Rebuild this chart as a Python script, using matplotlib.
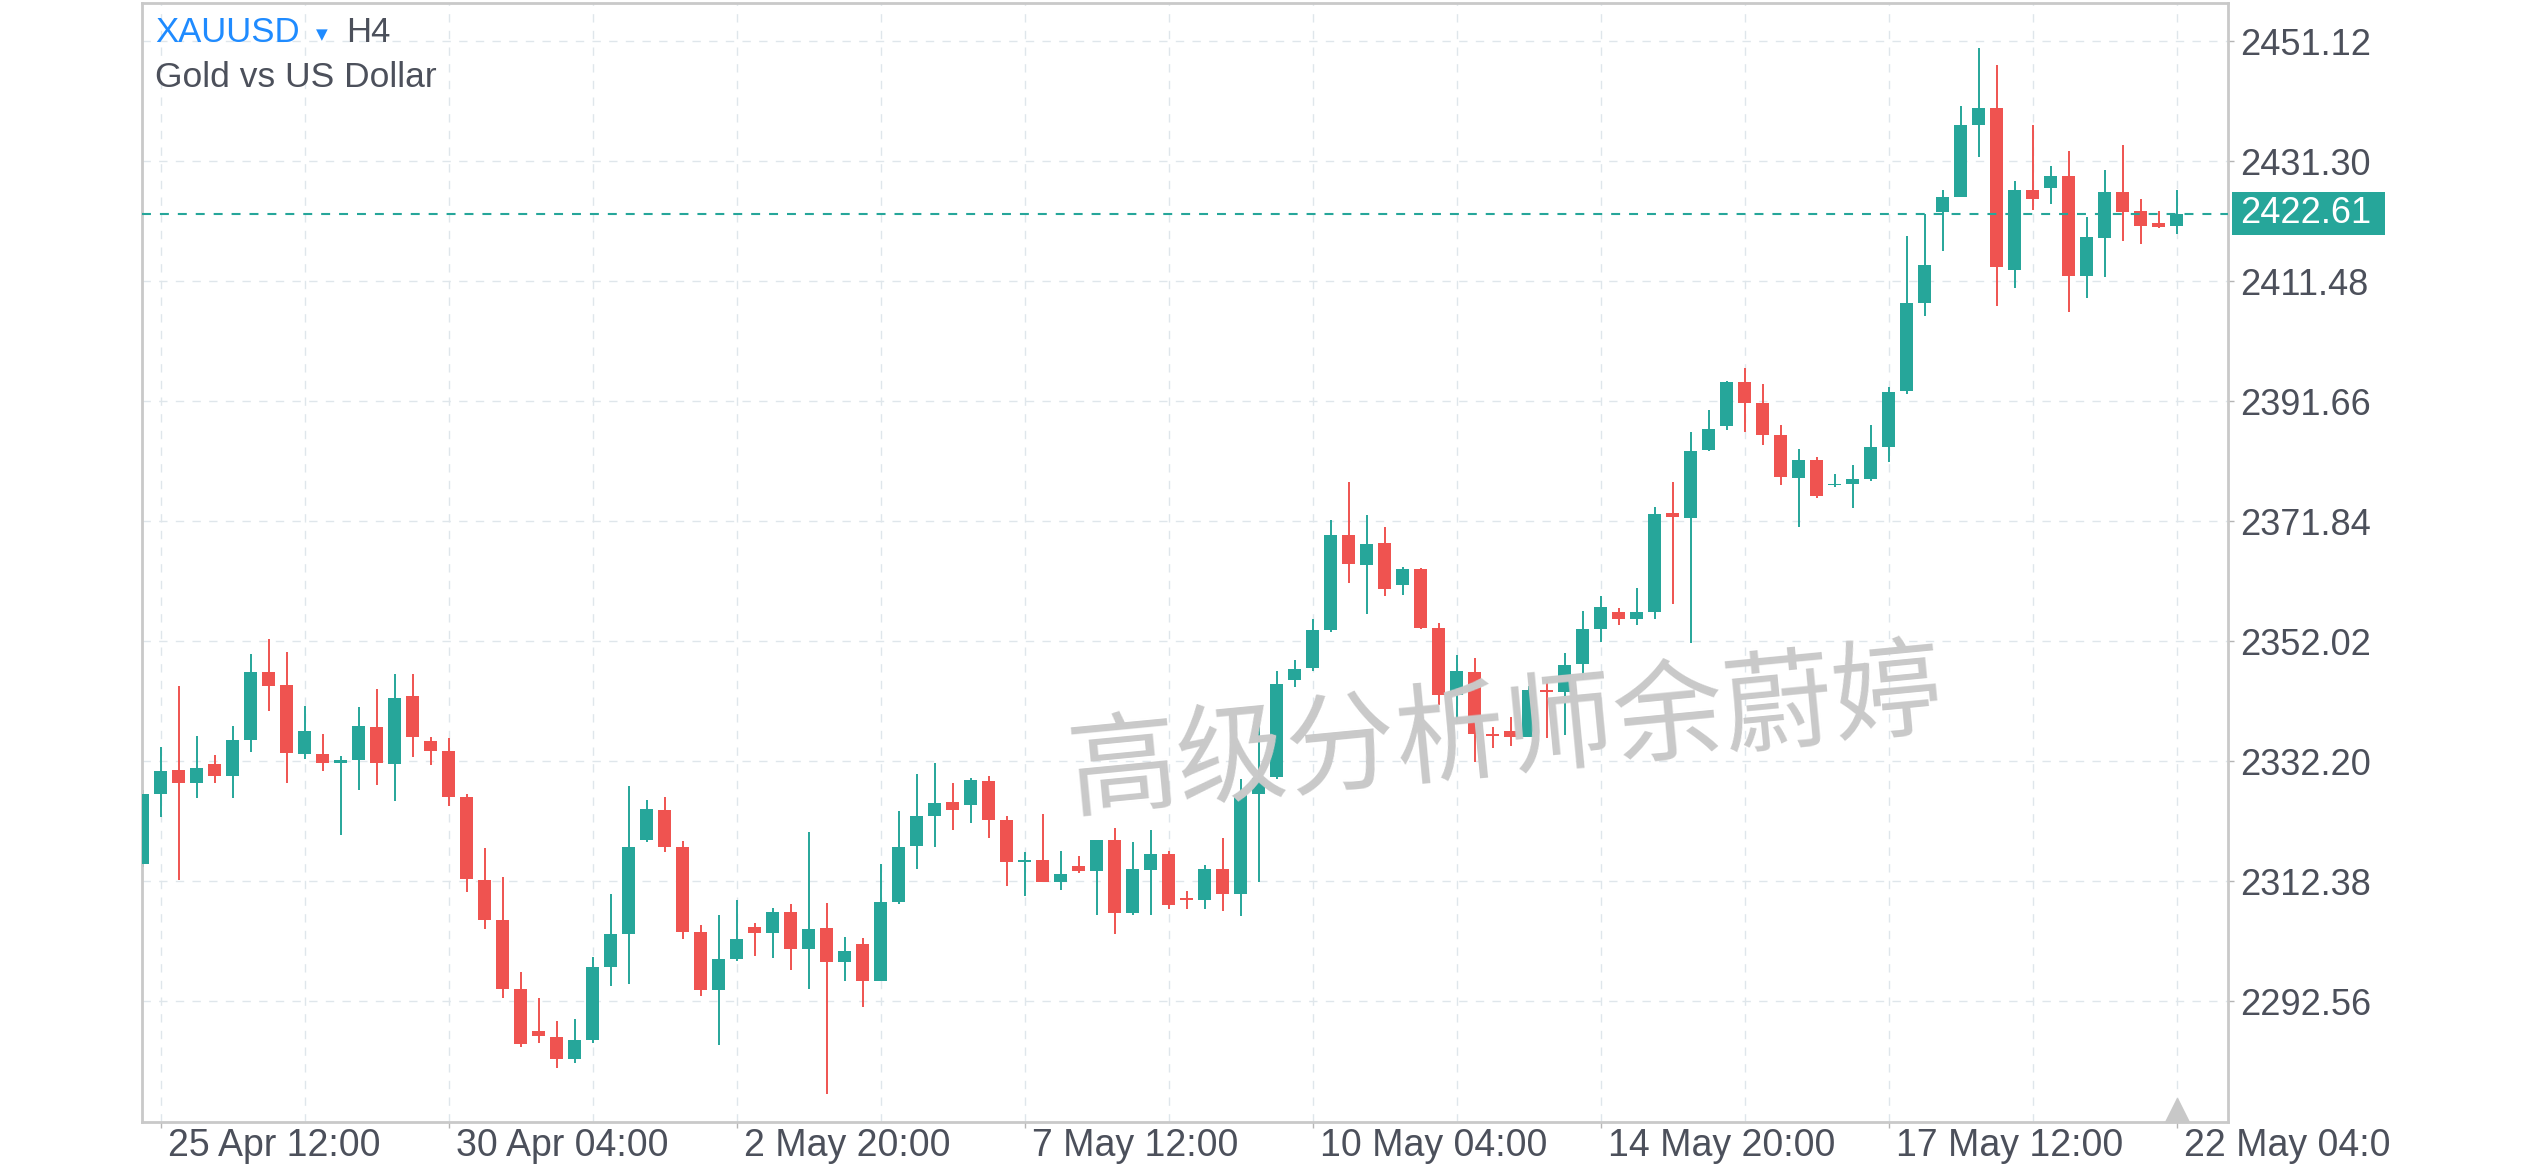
import numpy as np
import matplotlib
matplotlib.use("Agg")
import matplotlib.pyplot as plt
from matplotlib.patches import Rectangle
from matplotlib.transforms import blended_transform_factory, Bbox

plt.rcParams["font.family"] = ["Liberation Sans", "DejaVu Sans"]

# H4 candles, XAUUSD (oldest first)
opens = [2315.30, 2326.86, 2330.77, 2328.62, 2331.76, 2329.78, 2335.72, 2346.95, 2344.81, 2333.41,
         2333.41, 2331.92, 2332.42, 2337.87, 2331.76, 2342.99, 2335.56, 2333.90, 2326.31, 2312.60,
         2305.99, 2294.59, 2287.65, 2286.66, 2283.03, 2286.17, 2298.23, 2303.68, 2319.21, 2324.16,
         2318.05, 2304.01, 2294.43, 2299.55, 2304.84, 2303.84, 2307.31, 2301.20, 2304.67, 2299.05,
         2302.03, 2295.92, 2308.96, 2318.21, 2323.17, 2325.48, 2324.99, 2328.95, 2322.51, 2315.57,
         2315.90, 2312.27, 2314.91, 2314.09, 2319.21, 2307.15, 2314.25, 2316.89, 2309.46, 2309.29,
         2314.42, 2310.29, 2326.80, 2329.66, 2345.63, 2347.61, 2353.89, 2369.58, 2364.63, 2368.26,
         2361.32, 2363.97, 2354.22, 2343.15, 2346.95, 2336.71, 2337.21, 2336.22, 2343.98, 2343.65,
         2348.27, 2354.06, 2356.86, 2355.71, 2356.81, 2373.16, 2372.33, 2383.57, 2387.53, 2394.80,
         2391.33, 2386.04, 2378.94, 2381.91, 2377.78, 2377.95, 2378.78, 2384.06, 2393.31, 2407.90,
         2422.93, 2425.41, 2437.30, 2440.11, 2413.35, 2426.56, 2426.89, 2428.88, 2412.36, 2418.64,
         2426.23, 2423.09, 2421.11, 2420.62]
highs = [2327.50, 2334.57, 2344.65, 2336.38, 2333.24, 2338.03, 2349.93, 2352.41, 2350.26, 2341.34,
         2336.71, 2333.08, 2341.17, 2344.15, 2346.62, 2346.62, 2336.22, 2336.05, 2326.80, 2317.88,
         2313.09, 2297.40, 2293.11, 2289.31, 2289.64, 2299.88, 2310.29, 2328.13, 2325.81, 2326.31,
         2319.04, 2305.17, 2306.82, 2309.29, 2305.50, 2307.97, 2308.63, 2320.53, 2308.80, 2303.18,
         2303.02, 2315.24, 2324.00, 2330.11, 2331.92, 2328.62, 2329.45, 2329.78, 2323.17, 2317.22,
         2323.50, 2317.39, 2316.56, 2319.21, 2321.19, 2318.88, 2320.86, 2317.39, 2310.78, 2315.08,
         2319.54, 2329.28, 2338.74, 2347.12, 2348.93, 2355.71, 2372.06, 2378.34, 2372.89, 2370.90,
         2364.30, 2364.10, 2355.05, 2349.76, 2349.27, 2337.87, 2339.52, 2344.64, 2345.80, 2350.09,
         2357.03, 2359.51, 2357.52, 2360.83, 2374.15, 2378.28, 2386.54, 2390.17, 2394.96, 2397.11,
         2394.47, 2387.69, 2383.73, 2382.41, 2379.60, 2381.09, 2387.69, 2393.97, 2418.96, 2422.60,
         2426.56, 2440.44, 2450.02, 2447.21, 2428.05, 2437.30, 2430.53, 2433.01, 2422.10, 2429.87,
         2434.00, 2425.08, 2423.09, 2426.56]
lows = [2314.80, 2323.00, 2312.60, 2326.14, 2328.62, 2326.14, 2333.74, 2340.51, 2328.62, 2332.58,
        2330.60, 2320.03, 2327.46, 2328.29, 2325.65, 2332.91, 2331.59, 2324.82, 2310.61, 2304.50,
        2293.11, 2285.01, 2285.67, 2281.54, 2282.37, 2285.67, 2295.09, 2295.42, 2318.88, 2317.22,
        2302.85, 2293.44, 2285.34, 2299.22, 2300.04, 2299.71, 2297.73, 2294.59, 2277.25, 2295.92,
        2291.62, 2295.92, 2308.63, 2314.42, 2318.05, 2320.86, 2322.01, 2319.54, 2311.61, 2309.96,
        2312.27, 2310.95, 2313.76, 2306.82, 2303.68, 2306.82, 2306.82, 2307.81, 2307.81, 2307.81,
        2307.48, 2306.65, 2312.27, 2329.33, 2344.48, 2347.12, 2353.56, 2361.65, 2356.53, 2359.51,
        2359.67, 2354.10, 2341.50, 2338.60, 2332.09, 2334.40, 2334.73, 2336.22, 2336.05, 2336.55,
        2345.63, 2351.91, 2354.72, 2354.72, 2355.65, 2358.13, 2351.74, 2383.40, 2386.87, 2386.54,
        2384.39, 2377.78, 2370.85, 2375.64, 2377.45, 2373.99, 2378.45, 2381.59, 2392.90, 2405.75,
        2416.49, 2425.41, 2432.01, 2407.40, 2410.38, 2423.26, 2424.25, 2406.41, 2408.72, 2412.19,
        2418.14, 2417.64, 2420.29, 2419.30]
closes = [2326.80, 2330.60, 2328.62, 2331.10, 2329.78, 2335.72, 2346.95, 2344.64, 2333.57, 2337.21,
          2331.92, 2332.42, 2338.03, 2331.92, 2342.66, 2336.22, 2333.90, 2326.31, 2312.76, 2305.99,
          2294.59, 2285.51, 2286.83, 2283.03, 2286.17, 2298.23, 2303.68, 2318.05, 2324.33, 2318.05,
          2304.01, 2294.43, 2299.55, 2302.85, 2303.84, 2307.31, 2301.20, 2304.50, 2299.05, 2300.87,
          2295.92, 2308.96, 2318.05, 2323.17, 2325.32, 2324.16, 2329.12, 2322.51, 2315.57, 2315.90,
          2312.27, 2313.59, 2314.09, 2319.21, 2307.15, 2314.42, 2316.89, 2308.47, 2309.29, 2314.42,
          2310.29, 2326.64, 2329.40, 2344.97, 2347.45, 2353.89, 2369.58, 2364.79, 2368.10, 2360.66,
          2363.97, 2354.22, 2343.15, 2347.12, 2336.71, 2336.38, 2336.22, 2343.98, 2343.65, 2348.11,
          2354.06, 2357.69, 2355.71, 2356.86, 2373.00, 2372.50, 2383.40, 2387.03, 2394.80, 2391.33,
          2386.04, 2379.11, 2381.91, 2375.97, 2377.95, 2378.78, 2384.06, 2393.15, 2407.90, 2414.17,
          2425.41, 2437.30, 2440.11, 2413.84, 2426.56, 2425.08, 2428.88, 2412.36, 2418.80, 2426.23,
          2422.93, 2420.62, 2420.45, 2422.61]

# x labels sit on these candles (index into the lists above)
label_idx = [1, 17, 33, 49, 65, 81, 97, 113]
date_labels = ["25 Apr 12:00", "30 Apr 04:00", "2 May 20:00", "7 May 12:00",
               "10 May 04:00", "14 May 20:00", "17 May 12:00", "22 May 04:00"]
price_ticks = [2292.56, 2312.38, 2332.20, 2352.02, 2371.84, 2391.66, 2411.48, 2431.30, 2451.12]
last_price = 2422.61

UP = "#26a69a"
DOWN = "#ef5350"
GRID = "#dfe6eb"
FRAME = "#c9c9c9"
TXT = "#4c505b"

W, H = 2532, 1170
fig = plt.figure(figsize=(W / 100, H / 100), dpi=100)
ax = fig.add_axes([142 / W, 1 - 1122 / H, (2228 - 142) / W, (1122 - 3) / H])

o = np.array(opens)
h = np.array(highs)
l = np.array(lows)
c = np.array(closes)
x = np.arange(len(o))
col = np.where(c >= o, UP, DOWN)

ax.vlines(x, l, h, colors=col, lw=1.4, zorder=2)
body = np.maximum(np.abs(c - o), 0.3)
ax.bar(x, body, bottom=np.minimum(o, c), width=0.72, color=col, zorder=3)

ax.set_xlim(-0.03, 115.86)
ax.set_ylim(2272.62, 2457.45)

# grid
for gx in range(1, len(o) + 1, 8):
    ax.axvline(gx, color=GRID, lw=1.0, ls=(0, (6, 6)), zorder=0)
for gy in price_ticks:
    ax.axhline(gy, color=GRID, lw=1.0, ls=(0, (6, 6)), zorder=0)

for s in ax.spines.values():
    s.set_color(FRAME)
    s.set_linewidth(2)

ax.yaxis.tick_right()
ax.set_yticks(price_ticks)
ax.set_yticklabels([f"{v:.2f}" for v in price_ticks])
ax.tick_params(axis="y", length=4, width=1, color="#b5b5b5", pad=5, labelsize=26, labelcolor=TXT)
ax.set_xticks(label_idx)
ax.set_xticklabels([])
ax.tick_params(axis="x", length=4, width=1, color="#b5b5b5")

# date labels, left aligned just right of their tick, cut at the price scale edge
xtrans = blended_transform_factory(ax.transData, ax.transAxes)
for xi, lab in zip(label_idx, date_labels):
    t = ax.annotate(lab, xy=(xi, 0), xycoords=xtrans, xytext=(7, -24),
                    textcoords="offset pixels", ha="left", va="center",
                    fontsize=27, color=TXT, annotation_clip=False)
    t.set_clip_box(Bbox.from_extents(0, 0, 2390, H))
    t.set_clip_on(True)

# last price line and label
ax.axhline(last_price, color=UP, lw=1.5, ls=(0, (4.3, 4.3)), zorder=4)
ptrans = blended_transform_factory(ax.transAxes, ax.transData)
ax.add_patch(Rectangle((1.0019, last_price - 3.55), 0.0733, 7.1, transform=ptrans,
                       facecolor=UP, edgecolor="none", clip_on=False, zorder=5))
ax.text(1.0058, last_price, f"{last_price:.2f}", transform=ptrans, ha="left", va="center",
        fontsize=26, color="white", zorder=6, clip_on=False)

# current time marker
ax.plot([x[-1]], [0.011], marker="^", ms=17, color="#c8c8c8", transform=xtrans,
        clip_on=False, zorder=5)

# header
fig.text(155 / W, 1 - 32.5 / H, "XAUUSD", color="#1f8bff", fontsize=25, ha="left", va="center")
fig.text(316 / W, 1 - 35 / H, "▼", color="#1f8bff", fontsize=11, ha="left", va="center",
         family=["DejaVu Sans"])
fig.text(346 / W, 1 - 32.5 / H, "H4", color=TXT, fontsize=25, ha="left", va="center")
fig.text(155 / W, 1 - 77.5 / H, "Gold vs US Dollar", color=TXT, fontsize=25.5, ha="left", va="center")

# watermark
fig.text(1506 / W, 1 - 735 / H, "高级分析师余蔚婷", color="#c9c9c9", fontsize=79, rotation=5.5,
         ha="center", va="center", family=["Noto Sans CJK SC", "DejaVu Sans"], zorder=10,
         rotation_mode="anchor")

fig.savefig("out.png", dpi=100, facecolor="white")
